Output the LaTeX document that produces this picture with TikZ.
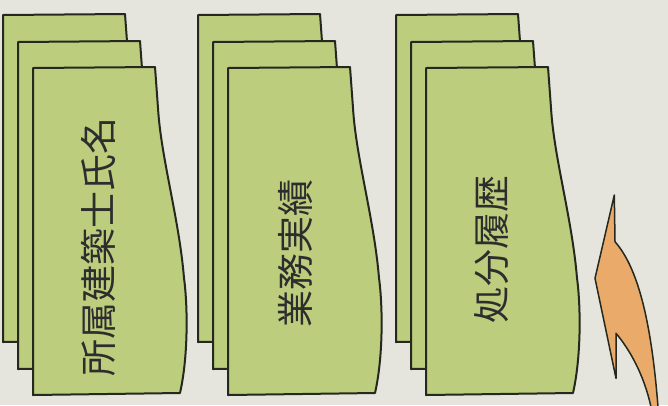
\documentclass[tikz,border=0pt]{standalone}
\usepackage{fontspec}
\newfontfamily\cjk{Noto Sans CJK JP}
\definecolor{paper}{RGB}{229,229,221}
\definecolor{sheetgreen}{RGB}{188,205,126}
\definecolor{edge}{RGB}{36,40,30}
\definecolor{arrowfill}{RGB}{233,170,106}
\definecolor{inkgray}{RGB}{45,45,45}
\tikzset{
  sheet/.style={fill=sheetgreen, draw=edge, line width=2pt, line join=round},
  label/.style={rotate=90, text=inkgray, font=\cjk\fontsize{37}{37}\selectfont, inner sep=0pt},
  arrowshape/.style={fill=arrowfill, draw=edge, line width=1.5pt, line join=round}
}
\newcommand{\docsheet}[2]{%
  \path[sheet, shift={(#1,#2)}] (0,0) -- (122,-1) -- (125,40)
    .. controls (128,90) and (146,150) .. (151,210)
    .. controls (155,240) and (155,290) .. (147,325)
    -- (0,327) -- cycle;}
\newcommand{\docstack}[1]{%
  \docsheet{#1}{15}
  \docsheet{#1+15}{42}
  \docsheet{#1+30}{68}}
\begin{document}
\begin{tikzpicture}[x=1pt,y=-1pt]
\fill[paper] (0,0) rectangle (668,405);
\useasboundingbox (0,0) rectangle (668,405);
\docstack{3}
\docstack{198}
\docstack{396}
\node[label] (t1) at (98,247) {所属建築士氏名};
\node[label] (t2) at (295,253) {業務実績};
\node[label] (t3) at (492,249) {処分履歴};
\path[arrowshape] (614.3,195) -- (595,278.3) -- (616,378.3) -- (616,333.3)
  .. controls (630,350) and (644,375) .. (651,407)
  -- (658,407)
  .. controls (652,330) and (640,270) .. (615,241.7) -- cycle;
\end{tikzpicture}
\end{document}
